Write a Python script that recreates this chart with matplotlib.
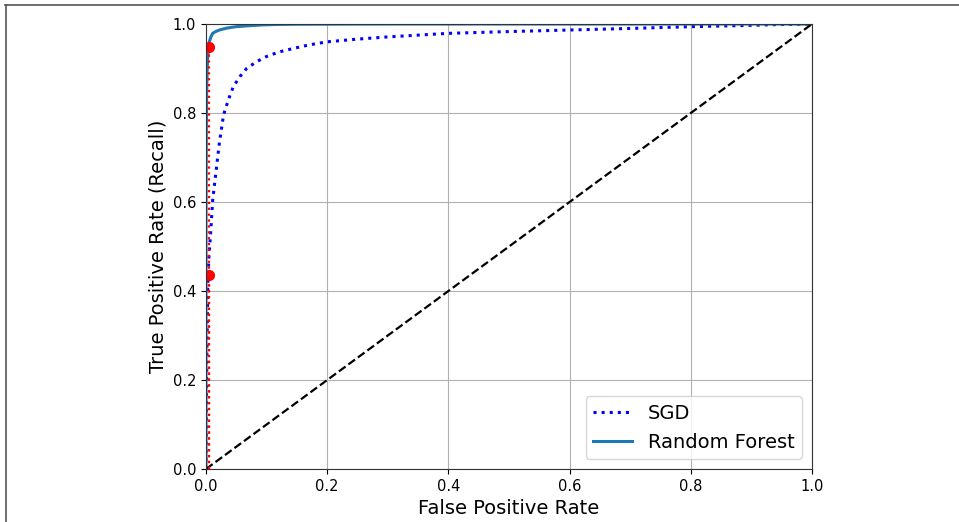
import matplotlib
matplotlib.use("Agg")
import matplotlib.pyplot as plt
from matplotlib.lines import Line2D

# SGD ROC curve
sgd_fpr = [0.0, 0.001, 0.002, 0.003, 0.0045, 0.008, 0.011, 0.0165, 0.022, 0.029,
           0.037, 0.045, 0.056, 0.067, 0.083, 0.100, 0.120, 0.144, 0.170, 0.200,
           0.250, 0.300, 0.350, 0.400, 0.500, 0.600, 0.700, 0.800, 0.900, 0.950, 1.0]
sgd_tpr = [0.0, 0.20, 0.32, 0.41, 0.47, 0.537, 0.604, 0.668, 0.732, 0.796,
           0.83, 0.859, 0.882, 0.900, 0.915, 0.927, 0.937, 0.945, 0.953, 0.960,
           0.966, 0.971, 0.975, 0.979, 0.983, 0.9865, 0.990, 0.994, 0.997, 0.999, 1.0]

# Random Forest ROC curve
rf_fpr = [0.0, 0.0, 0.0005, 0.001, 0.002, 0.003, 0.0047, 0.0055, 0.008, 0.011,
          0.016, 0.022, 0.035, 0.05, 0.07, 0.094, 0.12, 0.15, 0.3, 0.6, 1.0]
rf_tpr = [0.0, 0.55, 0.75, 0.84, 0.90, 0.93, 0.949, 0.96, 0.971, 0.979,
          0.983, 0.9865, 0.991, 0.994, 0.996, 0.998, 0.999, 0.9995, 1.0, 1.0, 1.0]

fpr_90 = 0.0047
recall_sgd = 0.437
recall_forest = 0.949

fig = plt.figure(figsize=(9.59, 5.22), dpi=100)
ax = fig.add_axes([206/959, 1-469/522, (812-206)/959, (469-24)/522])

ax.plot(sgd_fpr, sgd_tpr, "b:", linewidth=2.2, label="SGD")
ax.plot(rf_fpr, rf_tpr, color="C0", linewidth=2.2, label="Random Forest")
ax.plot([0, 1], [0, 1], "k--", linewidth=1.6)
ax.plot([fpr_90, fpr_90], [0.0, recall_sgd], "r:", linewidth=1.6)
ax.plot([fpr_90], [recall_sgd], "ro", markersize=7)
ax.plot([fpr_90, fpr_90], [0.0, recall_forest], "r:", linewidth=1.6)
ax.plot([fpr_90], [recall_forest], "ro", markersize=7)

ax.set_xlim(0, 1)
ax.set_ylim(0, 1)
ax.set_xlabel("False Positive Rate", fontsize=14)
ax.set_ylabel("True Positive Rate (Recall)", fontsize=14)
ax.tick_params(labelsize=10.5)
ax.grid(True)
for s in ax.spines.values():
    s.set_color("#333333")
ax.legend(loc="lower right", fontsize=14)

# partial frame around figure
fig.add_artist(Line2D([5/959, 1.0], [1-5/522, 1-5/522], transform=fig.transFigure,
                      color="#555555", linewidth=1.2))
fig.add_artist(Line2D([6/959, 6/959], [1-5/522, 0.0], transform=fig.transFigure,
                      color="#555555", linewidth=1.2))

fig.savefig("out.png", dpi=100)
